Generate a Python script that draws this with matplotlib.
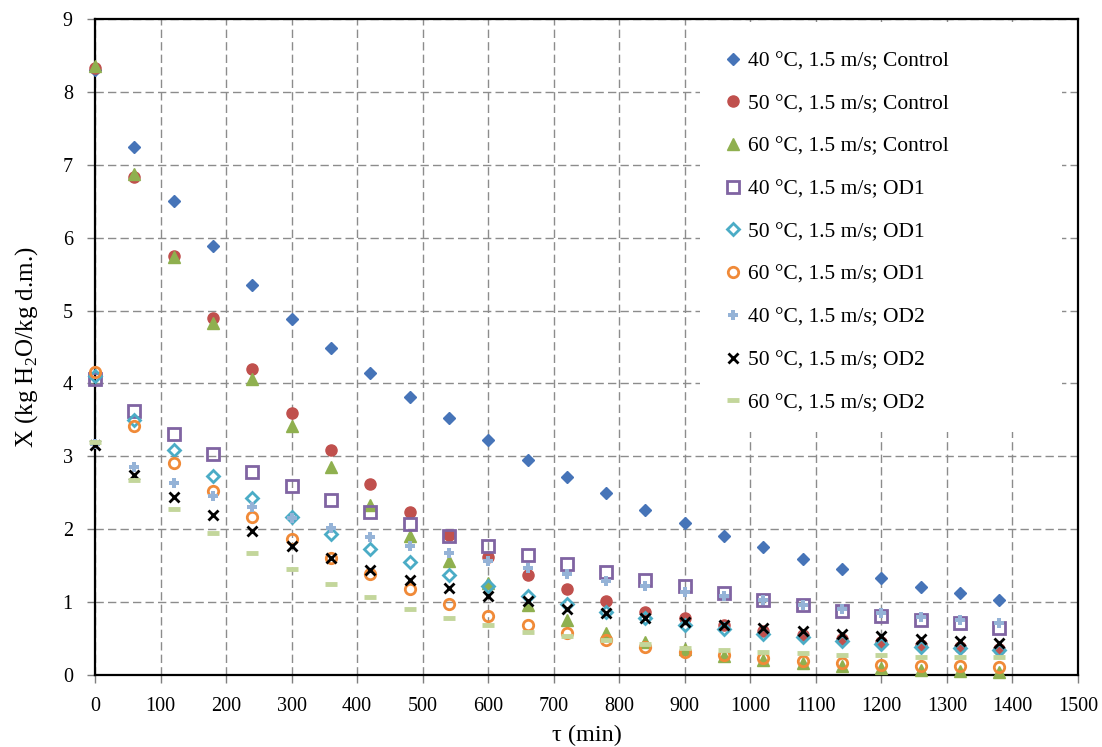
import matplotlib
matplotlib.use("Agg")
import matplotlib.pyplot as plt
from matplotlib.patches import Rectangle

# drying time, min
tau = [0, 60, 120, 180, 240, 300, 360, 420, 480, 540, 600, 660, 720, 780,
       840, 900, 960, 1020, 1080, 1140, 1200, 1260, 1320, 1380]

# moisture content, kg H2O / kg d.m.
ctrl_40 = [8.30, 7.25, 6.50, 5.88, 5.35, 4.88, 4.48, 4.14, 3.82, 3.52, 3.22, 2.95,
           2.71, 2.49, 2.27, 2.09, 1.91, 1.75, 1.59, 1.46, 1.33, 1.21, 1.12, 1.03]
ctrl_50 = [8.33, 6.83, 5.75, 4.90, 4.20, 3.60, 3.08, 2.62, 2.23, 1.92, 1.62, 1.37,
           1.18, 1.01, 0.87, 0.78, 0.69, 0.60, 0.55, 0.50, 0.45, 0.41, 0.38, 0.36]
ctrl_60 = [8.35, 6.88, 5.73, 4.83, 4.06, 3.42, 2.85, 2.33, 1.91, 1.57, 1.26, 0.96,
           0.76, 0.57, 0.45, 0.35, 0.26, 0.21, 0.17, 0.12, 0.09, 0.07, 0.05, 0.04]
od1_40 = [4.06, 3.62, 3.30, 3.03, 2.78, 2.59, 2.40, 2.24, 2.07, 1.91, 1.77, 1.64,
          1.52, 1.41, 1.31, 1.22, 1.12, 1.03, 0.96, 0.88, 0.81, 0.75, 0.71, 0.65]
od1_50 = [4.10, 3.50, 3.08, 2.73, 2.43, 2.17, 1.93, 1.73, 1.55, 1.37, 1.22, 1.09,
          0.97, 0.86, 0.78, 0.69, 0.63, 0.56, 0.52, 0.47, 0.43, 0.39, 0.37, 0.34]
od1_60 = [4.15, 3.41, 2.91, 2.52, 2.17, 1.86, 1.60, 1.38, 1.18, 0.98, 0.81, 0.68,
          0.58, 0.48, 0.39, 0.32, 0.27, 0.23, 0.19, 0.16, 0.14, 0.13, 0.12, 0.11]
od2_40 = [3.17, 2.86, 2.64, 2.46, 2.30, 2.16, 2.02, 1.89, 1.77, 1.67, 1.57, 1.47,
          1.38, 1.29, 1.22, 1.14, 1.08, 1.03, 0.96, 0.90, 0.85, 0.80, 0.75, 0.71]
od2_50 = [3.15, 2.75, 2.44, 2.19, 1.97, 1.77, 1.60, 1.44, 1.31, 1.20, 1.09, 1.01,
          0.91, 0.85, 0.78, 0.73, 0.69, 0.64, 0.60, 0.56, 0.54, 0.50, 0.47, 0.44]
od2_60 = [3.20, 2.67, 2.28, 1.95, 1.68, 1.45, 1.25, 1.07, 0.91, 0.78, 0.68, 0.59,
          0.53, 0.48, 0.42, 0.37, 0.34, 0.32, 0.30, 0.28, 0.27, 0.25, 0.24, 0.24]

labels = ["40 °C, 1.5 m/s; Control", "50 °C, 1.5 m/s; Control", "60 °C, 1.5 m/s; Control",
          "40 °C, 1.5 m/s; OD1", "50 °C, 1.5 m/s; OD1", "60 °C, 1.5 m/s; OD1",
          "40 °C, 1.5 m/s; OD2", "50 °C, 1.5 m/s; OD2", "60 °C, 1.5 m/s; OD2"]

plt.rcParams['font.family'] = ['Liberation Serif', 'DejaVu Serif']
plt.rcParams['mathtext.fontset'] = 'custom'
plt.rcParams['mathtext.rm'] = 'Liberation Serif'
plt.rcParams['font.size'] = 14.5

fig = plt.figure(figsize=(11.02, 7.47), dpi=100)
ax = fig.add_axes([0.0862, 0.0964, 0.892, 0.8782])

styles = [
    dict(marker='D', color='#4674B8', ms=6, mec='#4674B8'),
    dict(marker='o', color='#C0504D', ms=8, mec='#C0504D'),
    dict(marker='^', color='#8FB04F', ms=8, mec='#8FB04F'),
    dict(marker='s', color='none', ms=8, mec='#8064A2', mew=2),
    dict(marker='D', color='none', ms=6, mec='#4BACC6', mew=2),
    dict(marker='o', color='none', ms=7.5, mec='#F08A38', mew=2),
    dict(marker='P', color='#95B3D7', ms=7, mec='#95B3D7', mew=0),
    dict(marker='x', color='black', ms=7, mec='black', mew=2),
    dict(marker='_', color='#C3D69B', ms=9, mec='#C3D69B', mew=3.5),
]
series = [ctrl_40, ctrl_50, ctrl_60, od1_40, od1_50, od1_60, od2_40, od2_50, od2_60]

for ys, st, lab in zip(series, styles, labels):
    ax.plot(tau, ys, linestyle='none', marker=st['marker'], markersize=st['ms'],
            markerfacecolor=st['color'], markeredgecolor=st['mec'],
            markeredgewidth=st.get('mew', 1), label=lab, clip_on=False, zorder=3)

ax.set_xlim(0, 1500)
ax.set_ylim(0, 9)
ax.set_xticks(range(0, 1501, 100))
ax.set_yticks(range(0, 10))
ax.grid(True, color='#8c8c8c', linestyle=(0, (6, 3)), linewidth=1)
ax.set_axisbelow(True)
for sp in ax.spines.values():
    sp.set_linewidth(1.6)
    sp.set_color('black')
ax.tick_params(direction='out', length=6, width=1, color='#7f7f7f', labelsize=14.5)
ax.tick_params(axis='x', pad=10)
ax.tick_params(axis='y', pad=10)

ax.set_xlabel('τ (min)', fontsize=17.5, labelpad=6)
ax.set_ylabel('X (kg H$_2$O/kg d.m.)', fontsize=18, labelpad=16)

# white area behind the legend hides the grid there
ax.add_patch(Rectangle((0.615, 0.370), 0.369, 0.625, transform=ax.transAxes,
                       facecolor='white', edgecolor='none', zorder=1.5))

leg = ax.legend(loc='upper left', bbox_to_anchor=(0.607, 1.0), frameon=False,
                fontsize=15.5, labelspacing=1.05, handlelength=0.8, handletextpad=0.3,
                borderpad=1.0, numpoints=1)
leg.set_zorder(5)

fig.savefig('out.png', dpi=100)
